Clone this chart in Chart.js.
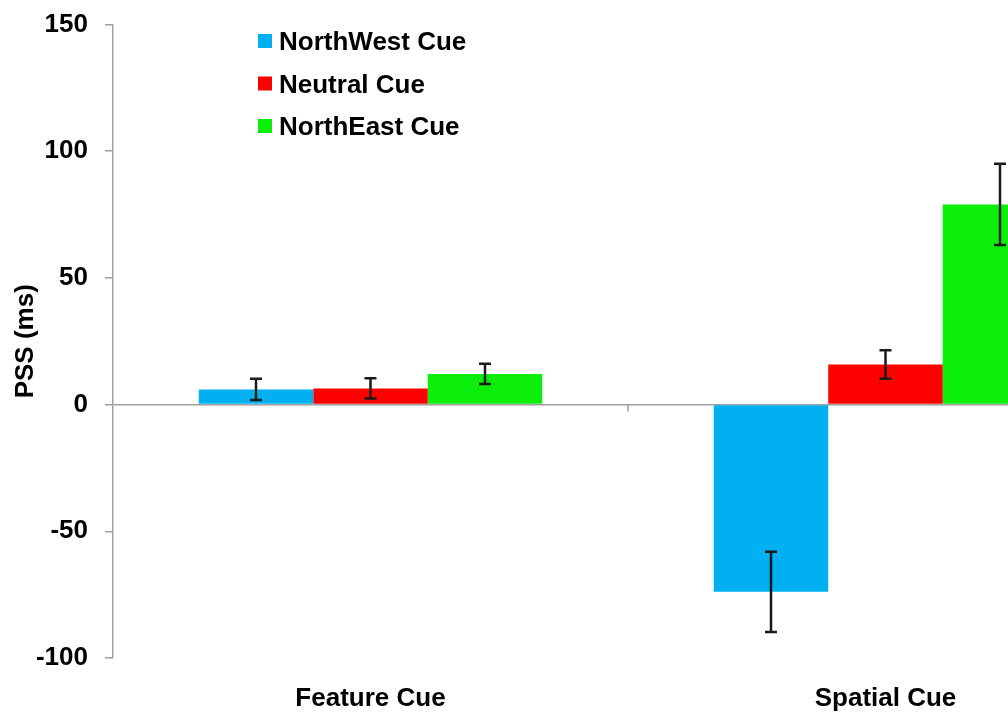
<!DOCTYPE html>
<html>
<head>
<meta charset="utf-8">
<title>PSS by cue type</title>
<script src="https://cdn.jsdelivr.net/npm/chart.js@4/dist/chart.umd.min.js"></script>
<style>
  html, body { margin: 0; padding: 0; background: #ffffff; overflow: hidden; }
  #wrap { width: 1008px; height: 715px; overflow: hidden; position: relative; }
  canvas { display: block; }
</style>
</head>
<body>
<div id="wrap"><canvas id="chart" width="1150" height="715"></canvas></div>
<script>
// Categories and series
const categories = ['Feature Cue', 'Spatial Cue'];
const seriesNames = ['NorthWest Cue', 'Neutral Cue', 'NorthEast Cue'];
const northWestPSS = [6.0, -73.9];
const neutralPSS = [6.4, 15.8];
const northEastPSS = [12.1, 79.0];
// Standard error for each bar
const northWestErr = [4.2, 15.8];
const neutralErr = [4.0, 5.6];
const northEastErr = [4.0, 16.0];
// Value axis ticks
const yTicks = [-100, -50, 0, 50, 100, 150];

const colors = ['#00B0F0', '#FF0000', '#0BEF0B'];
const FONT = "'Liberation Sans', Arial, sans-serif";
const AXIS_GREY = '#a0a0a0';

// Error bars with caps, drawn on top of every bar
const errorBars = {
  id: 'errorBars',
  afterDatasetsDraw(chart) {
    const ctx = chart.ctx;
    const y = chart.scales.y;
    ctx.save();
    ctx.strokeStyle = '#1a1a1a';
    ctx.lineWidth = 2.5;
    chart.data.datasets.forEach((ds, i) => {
      const meta = chart.getDatasetMeta(i);
      meta.data.forEach((bar, j) => {
        const v = ds.data[j], e = ds.errors[j];
        const yHi = y.getPixelForValue(v + e);
        const yLo = y.getPixelForValue(v - e);
        const x = bar.x, cap = 6;
        ctx.beginPath();
        ctx.moveTo(x, yHi); ctx.lineTo(x, yLo);
        ctx.moveTo(x - cap, yHi); ctx.lineTo(x + cap, yHi);
        ctx.moveTo(x - cap, yLo); ctx.lineTo(x + cap, yLo);
        ctx.stroke();
      });
    });
    ctx.restore();
  }
};

// Tick marks on the zero line between categories
const categoryTicks = {
  id: 'categoryTicks',
  afterDatasetsDraw(chart) {
    const ctx = chart.ctx;
    const x = chart.scales.x, y = chart.scales.y;
    const y0 = y.getPixelForValue(0);
    ctx.save();
    ctx.strokeStyle = AXIS_GREY;
    ctx.lineWidth = 1.5;
    for (let i = 0; i < categories.length - 1; i++) {
      const xs = (x.getPixelForTick(i) + x.getPixelForTick(i + 1)) / 2;
      ctx.beginPath();
      ctx.moveTo(xs, y0);
      ctx.lineTo(xs, y0 + 7);
      ctx.stroke();
    }
    ctx.restore();
  }
};

// Legend inside the plot, upper left
const insideLegend = {
  id: 'insideLegend',
  afterDraw(chart) {
    const ctx = chart.ctx;
    ctx.save();
    ctx.font = 'bold 26px ' + FONT;
    ctx.textBaseline = 'middle';
    ctx.textAlign = 'left';
    chart.data.datasets.forEach((ds, i) => {
      const cy = 41 + i * 42.5;
      ctx.fillStyle = ds.backgroundColor;
      ctx.fillRect(258, cy - 7, 14, 14);
      ctx.fillStyle = '#000000';
      ctx.fillText(ds.label, 279, cy + 2);
    });
    ctx.restore();
  }
};

const datasets = [northWestPSS, neutralPSS, northEastPSS].map((d, i) => ({
  label: seriesNames[i],
  data: d,
  errors: [northWestErr, neutralErr, northEastErr][i],
  backgroundColor: colors[i],
  borderWidth: 0,
  categoryPercentage: 0.667,
  barPercentage: 1.0
}));

new Chart(document.getElementById('chart'), {
  type: 'bar',
  data: { labels: categories, datasets },
  options: {
    responsive: false,
    animation: false,
    layout: { padding: { top: 24.5, right: 7, bottom: 0, left: 0 } },
    plugins: {
      legend: { display: false },
      tooltip: { enabled: false }
    },
    scales: {
      x: {
        grid: { display: false },
        border: { display: false },
        ticks: {
          color: '#000000',
          padding: 17,
          font: { family: FONT, size: 26, weight: 'bold' }
        },
        afterFit(scale) { scale.height = 57; }
      },
      y: {
        min: -100,
        max: 150,
        afterBuildTicks(scale) { scale.ticks = yTicks.map(v => ({ value: v })); },
        grid: {
          color: c => (c.tick && c.tick.value === 0 ? AXIS_GREY : 'rgba(0,0,0,0)'),
          lineWidth: 1.5,
          tickColor: AXIS_GREY,
          tickLength: 8,
          drawTicks: true
        },
        border: { display: true, color: AXIS_GREY, width: 1.5 },
        ticks: {
          color: '#000000',
          padding: 17,
          font: { family: FONT, size: 26, weight: 'bold' }
        },
        title: {
          display: true,
          text: 'PSS (ms)',
          color: '#000000',
          padding: { top: 10, bottom: 0 },
          font: { family: FONT, size: 26, weight: 'bold' }
        },
        afterFit(scale) {
          scale.width = 113;
          scale.paddingTop = 0;
          scale.paddingBottom = 0;
        }
      }
    }
  },
  plugins: [errorBars, categoryTicks, insideLegend]
});
</script>
</body>
</html>
